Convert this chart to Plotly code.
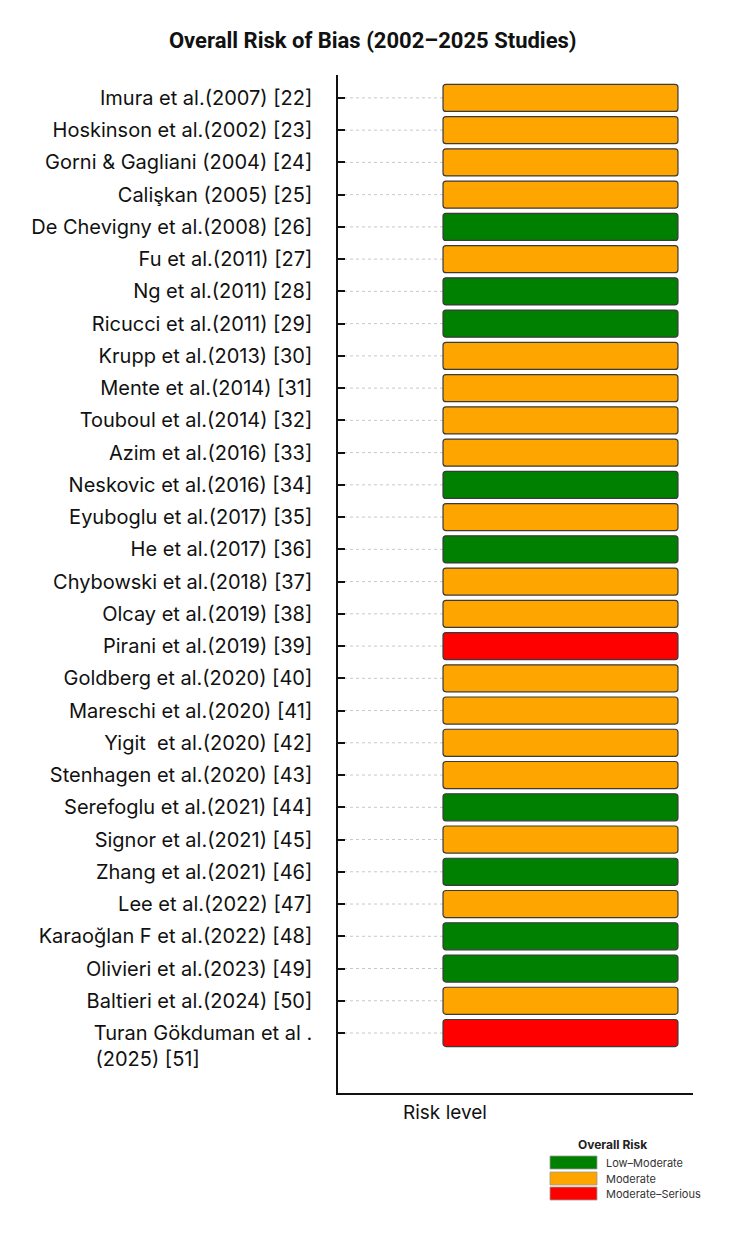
import plotly.graph_objects as go

studies = [
    "Imura et al.(2007) [22]",
    "Hoskinson et al.(2002) [23]",
    "Gorni & Gagliani (2004) [24]",
    "Calişkan (2005) [25]",
    "De Chevigny et al.(2008) [26]",
    "Fu et al.(2011) [27]",
    "Ng et al.(2011) [28]",
    "Ricucci et al.(2011) [29]",
    "Krupp et al.(2013) [30]",
    "Mente et al.(2014) [31]",
    "Touboul et al.(2014) [32]",
    "Azim et al.(2016) [33]",
    "Neskovic et al.(2016) [34]",
    "Eyuboglu et al.(2017) [35]",
    "He et al.(2017) [36]",
    "Chybowski et al.(2018) [37]",
    "Olcay et al.(2019) [38]",
    "Pirani et al.(2019) [39]",
    "Goldberg et al.(2020) [40]",
    "Mareschi et al.(2020) [41]",
    "Yigit  et al.(2020) [42]",
    "Stenhagen et al.(2020) [43]",
    "Serefoglu et al.(2021) [44]",
    "Signor et al.(2021) [45]",
    "Zhang et al.(2021) [46]",
    "Lee et al.(2022) [47]",
    "Karaoğlan F et al.(2022) [48]",
    "Olivieri et al.(2023) [49]",
    "Baltieri et al.(2024) [50]",
    "Turan Gökduman et al.(2025) [51]",
]
tick_labels = studies[:-1] + [
    "\u00a0<br>Turan Gökduman et al .<br>(2025) [51]" + "\u00a0" * 20
]

risk = [
    "Moderate", "Moderate", "Moderate", "Moderate", "Low–Moderate",
    "Moderate", "Low–Moderate", "Low–Moderate", "Moderate", "Moderate",
    "Moderate", "Moderate", "Low–Moderate", "Moderate", "Low–Moderate",
    "Moderate", "Moderate", "Moderate–Serious", "Moderate", "Moderate",
    "Moderate", "Moderate", "Low–Moderate", "Moderate", "Low–Moderate",
    "Moderate", "Low–Moderate", "Low–Moderate", "Moderate", "Moderate–Serious",
]

risk_levels = ["Low–Moderate", "Moderate", "Moderate–Serious"]
risk_colors = ["#008000", "#FFA500", "#FF0000"]

x_range = [-0.447, 1.064]
y_range = [len(studies) - 1 + 1.86, -0.71]

fig = go.Figure()

for lvl, col in zip(risk_levels, risk_colors):
    ys = [s for s, r in zip(studies, risk) if r == lvl]
    fig.add_trace(go.Bar(
        y=ys, x=[1] * len(ys), base=0, orientation="h",
        marker=dict(color=col, line=dict(color="#3a3a3a", width=1.2), cornerradius=3),
        name=lvl, showlegend=False, hoverinfo="y+name",
    ))

# dotted guide lines from axis to bar start
for s in studies:
    fig.add_shape(type="line", xref="x", yref="y", x0=x_range[0], x1=0, y0=s, y1=s,
                  line=dict(color="#c8c8c8", width=1, dash="dot"), layer="below")

fig.update_layout(
    width=750, height=1239,
    margin=dict(l=338, r=57, t=75, b=146),
    paper_bgcolor="white", plot_bgcolor="white",
    barmode="overlay", bargap=0.16,
    title=dict(text="<b>Overall Risk of Bias (2002–2025 Studies)</b>",
               x=0.497, xref="container", xanchor="center",
               y=1 - 40 / 1239, yref="container", yanchor="middle",
               font=dict(family="Roboto", size=22, color="#111111")),
    font=dict(family="Inter", color="#111111"),
)

fig.update_xaxes(range=x_range, showticklabels=False, showgrid=False, zeroline=False,
                 showline=True, linecolor="#111111", linewidth=1.5, ticks="")
fig.update_yaxes(type="category", categoryorder="array", categoryarray=studies,
                 range=y_range, tickmode="array", tickvals=studies, ticktext=tick_labels,
                 showgrid=False, zeroline=False,
                 showline=True, linecolor="#111111", linewidth=1.5,
                 ticks="inside", ticklen=7, tickwidth=2, tickcolor="#111111",
                 ticklabelstandoff=20,
                 tickfont=dict(family="Inter", size=20, color="#111111"))

# x-axis title
fig.add_annotation(text="Risk level", xref="paper", yref="paper", x=(445 - 338) / 355,
                   y=-(1112 - 1093) / (1093 - 75), xanchor="center", yanchor="middle",
                   showarrow=False, font=dict(family="Inter", size=19, color="#111111"))

# manual legend
fig.add_annotation(text="<b>Overall Risk</b>", xref="paper", yref="paper",
                   x=(612 - 338) / 355, y=(1239 - 1144 - 146) / (1093 - 75),
                   xanchor="center", yanchor="middle", showarrow=False,
                   font=dict(family="Inter", size=12, color="#222222"))
leg_top = [1156, 1172, 1187]
for lvl, col, top in zip(risk_levels, risk_colors, leg_top):
    fig.add_shape(type="rect", xref="paper", yref="paper",
                  x0=(550 - 338) / 355, x1=(597 - 338) / 355,
                  y0=(1239 - (top + 13) - 146) / (1093 - 75),
                  y1=(1239 - top - 146) / (1093 - 75),
                  fillcolor=col, line=dict(color="#999999", width=0.8))
    fig.add_annotation(text=lvl, xref="paper", yref="paper",
                       x=(604 - 338) / 355, y=(1239 - (top + 6.5) - 146) / (1093 - 75),
                       xanchor="left", yanchor="middle", showarrow=False,
                       font=dict(family="Inter", size=11, color="#333333"))

fig.write_html("out.html")
